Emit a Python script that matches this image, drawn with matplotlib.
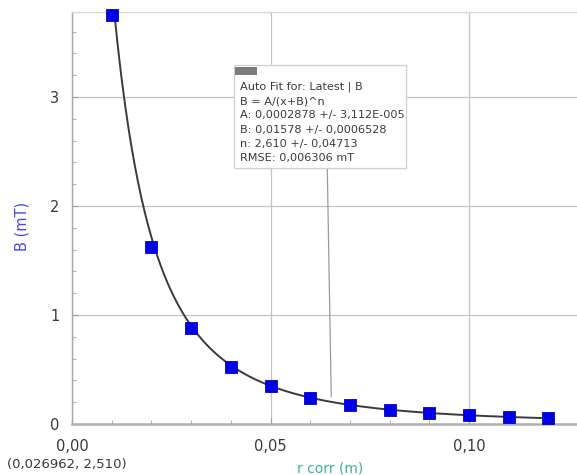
import numpy as np
import matplotlib
matplotlib.use("Agg")
import matplotlib.pyplot as plt
from matplotlib.ticker import FuncFormatter, MultipleLocator

# Measured field vs corrected distance
r_corr = [0.01, 0.02, 0.03, 0.04, 0.05, 0.06, 0.07, 0.08, 0.09, 0.10, 0.11, 0.12]
b_field = [3.75, 1.62, 0.88, 0.52, 0.35, 0.24, 0.17, 0.13, 0.10, 0.08, 0.065, 0.055]

# Auto-fit parameters: B = A/(x+B)^n
fit_A = 0.0002878
fit_B = 0.01578
fit_n = 2.610

fit_lines = [
    "Auto Fit for: Latest | B",
    "B = A/(x+B)^n",
    "A: 0,0002878 +/- 3,112E-005",
    "B: 0,01578 +/- 0,0006528",
    "n: 2,610 +/- 0,04713",
    "RMSE: 0,006306 mT",
]


def fit_curve(x):
    return fit_A / (np.asarray(x) + fit_B) ** fit_n


fig = plt.figure(figsize=(5.77, 4.75), dpi=100)
ax = fig.add_axes([0.1248, 0.1074, 0.8752, 0.8674])

ax.set_xlim(0.0, 0.1272)
ax.set_ylim(0.0, 3.78)

# grid
ax.grid(True, which="major", color="#c4c4c4", linewidth=0.9)
ax.set_axisbelow(True)

# fitted curve
xf = np.linspace(0.0100, 0.1200, 400)
ax.plot(xf, fit_curve(xf), color="#3a3a3a", linewidth=1.4, zorder=3)

# data points
ax.plot(r_corr, b_field, linestyle="none", marker="s", markersize=8.5,
        markerfacecolor="#0000e6", markeredgecolor="#0000c0",
        markeredgewidth=0.6, zorder=4, clip_on=False)

# spines
ax.spines["right"].set_visible(False)
ax.spines["top"].set_color("#d8d8d8")
ax.spines["top"].set_linewidth(1.0)
ax.spines["left"].set_color("#a8a8a8")
ax.spines["left"].set_linewidth(1.0)
ax.spines["bottom"].set_color("#b0b0b0")
ax.spines["bottom"].set_linewidth(1.8)

# ticks
ax.xaxis.set_major_locator(MultipleLocator(0.05))
ax.xaxis.set_minor_locator(MultipleLocator(0.01))
ax.yaxis.set_major_locator(MultipleLocator(1))
ax.yaxis.set_minor_locator(MultipleLocator(0.2))
ax.xaxis.set_major_formatter(FuncFormatter(lambda v, p: f"{v:.2f}".replace(".", ",")))
ax.yaxis.set_major_formatter(FuncFormatter(lambda v, p: f"{v:.0f}"))
ax.tick_params(axis="both", which="both", direction="in", color="#a0a0a0",
               labelsize=10.5, labelcolor="#383838")
ax.tick_params(axis="both", which="major", length=4)
ax.tick_params(axis="y", which="major", pad=9)
ax.tick_params(axis="x", which="major", pad=11)
ax.tick_params(axis="both", which="minor", length=3)

# axis labels
ax.set_ylabel("B (mT)", color="#4646f0", fontsize=10.5)
ax.yaxis.label.set_va("center")
ax.yaxis.set_label_coords(-0.099, 0.48)
ax.set_xlabel("r corr (m)", color="#3ab486", fontsize=10)
ax.xaxis.label.set_va("center")
ax.xaxis.set_label_coords(0.511, -0.109)

# cursor readout
fig.text(0.012, 0.022, "(0,026962, 2,510)", fontsize=9.5, color="#383838",
         ha="left", va="center")

# pointer line from the fit box to the curve
ax.plot([0.0643, 0.0653], [2.349, 0.25], color="#9a9a9a", linewidth=0.9,
        zorder=2)

# fit box
ax.add_patch(plt.Rectangle((0.0408, 2.349), 0.0433, 0.945, facecolor="white",
                           edgecolor="#cfcfcf", linewidth=0.9, zorder=5))
ax.add_patch(plt.Rectangle((0.0411, 3.205), 0.0056, 0.07, facecolor="#7c7c7c",
                           edgecolor="none", zorder=6))
line_step = 14.2 / 109.0
for i, line in enumerate(fit_lines):
    ax.text(0.0423, 3.092 - i * line_step, line, fontsize=8.1, color="#3a3a3a",
            ha="left", va="center", zorder=7)

fig.savefig("out.png", dpi=100)
